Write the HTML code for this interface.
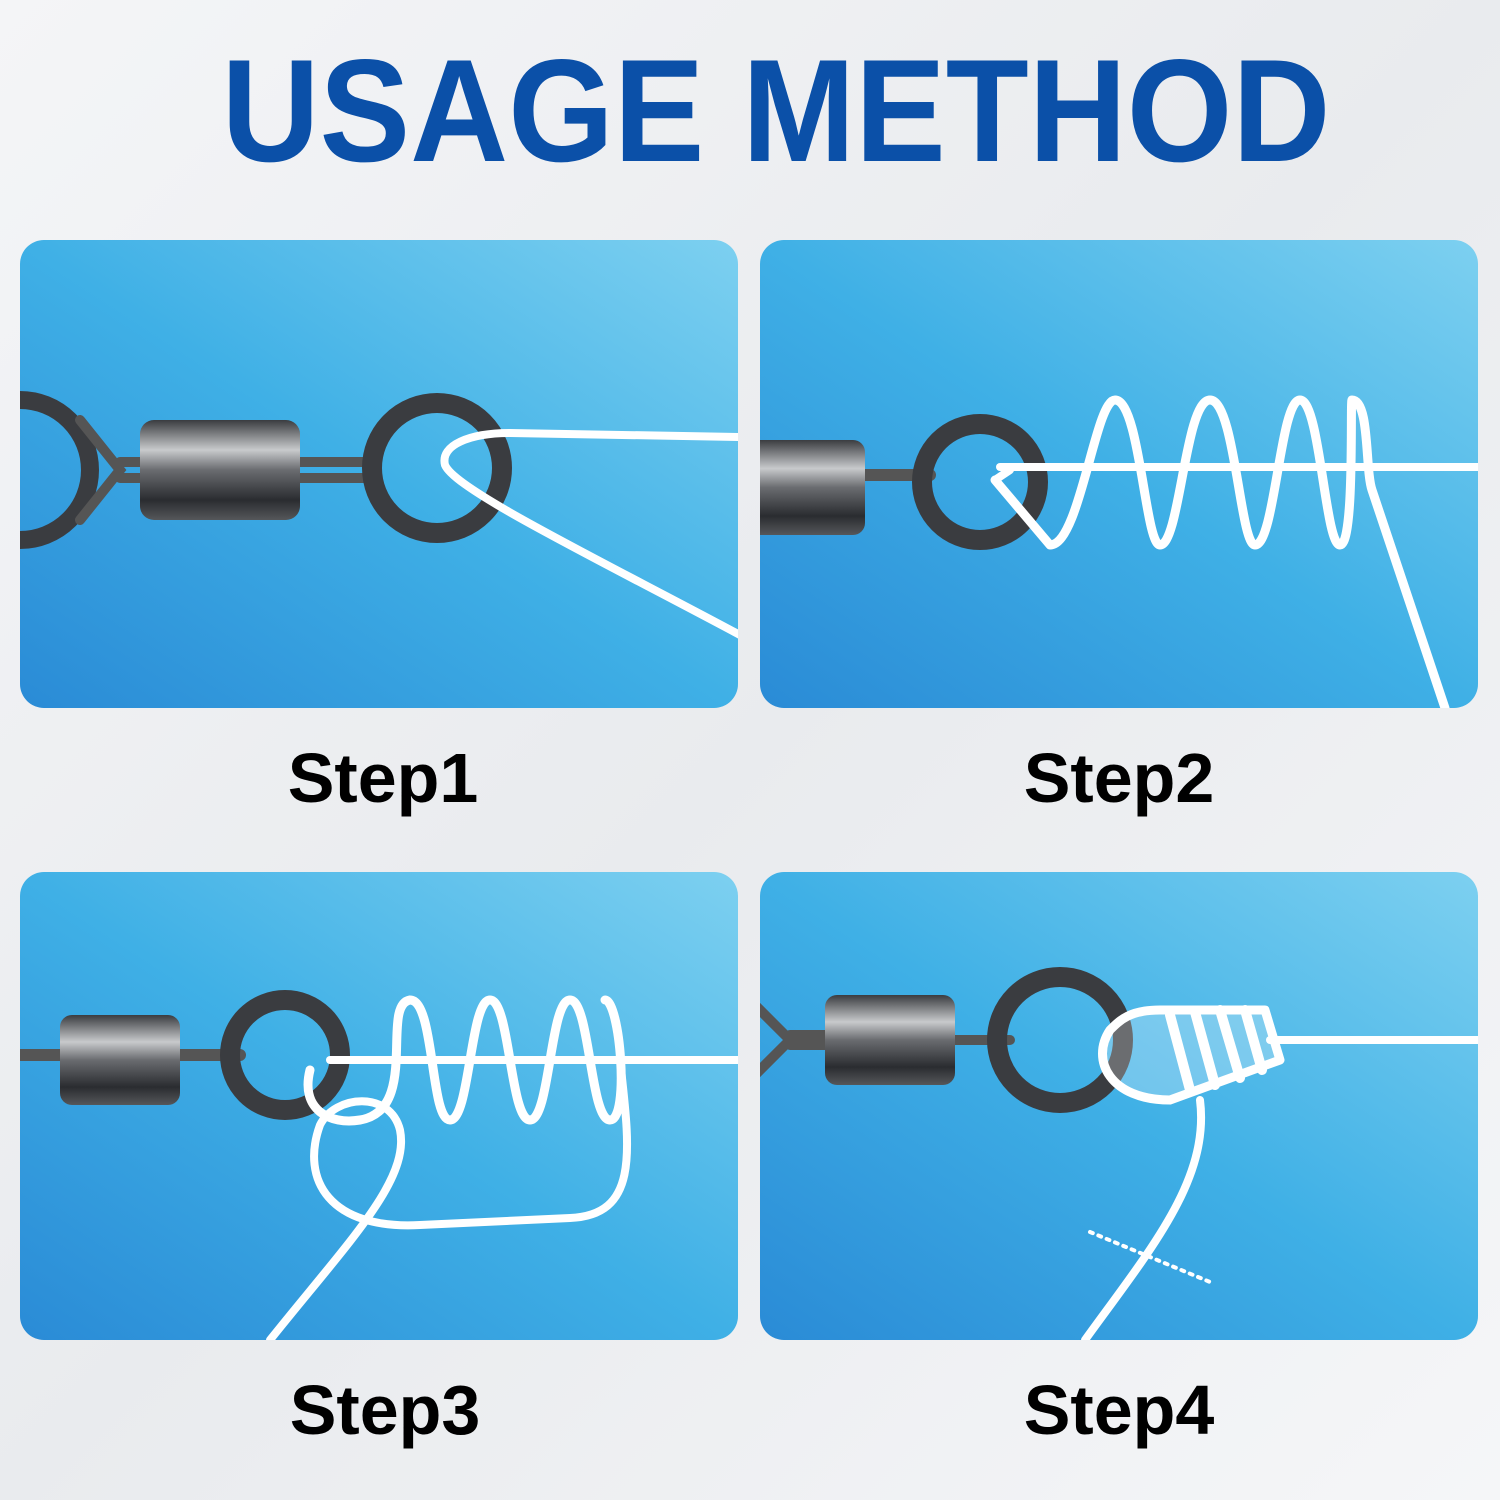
<!DOCTYPE html>
<html><head><meta charset="utf-8"><style>
html,body{margin:0;padding:0;}
body{width:1500px;height:1500px;background:linear-gradient(135deg,#f4f5f7,#e9ebee 50%,#f5f6f8);position:relative;overflow:hidden;font-family:"Liberation Sans",sans-serif;}
.title{position:absolute;left:26px;width:1500px;top:36px;text-align:center;font-weight:bold;font-size:146px;color:#0b50a8;letter-spacing:0;line-height:150px;transform:scaleX(0.93);transform-origin:750px 0;}
.lbl{position:absolute;width:718px;text-align:center;font-weight:bold;font-size:70px;color:#000;}
svg{position:absolute;left:0;top:0;}
</style></head><body>
<div class="title">USAGE METHOD</div>
<svg width="1500" height="1500" viewBox="0 0 1500 1500">
<defs>
<linearGradient id="bg" x1="0" y1="1" x2="1" y2="0">
<stop offset="0" stop-color="#2a8bd6"/><stop offset="0.5" stop-color="#3fb0e6"/><stop offset="1" stop-color="#7dd0f0"/></linearGradient>
<linearGradient id="brl" x1="0" y1="0" x2="0" y2="1">
<stop offset="0" stop-color="#3a3c40"/><stop offset="0.3" stop-color="#c8cacc"/><stop offset="0.5" stop-color="#6a6c70"/><stop offset="0.8" stop-color="#2a2c30"/><stop offset="1" stop-color="#55575a"/></linearGradient>
<clipPath id="c1"><rect x="20" y="240" width="718" height="468" rx="24"/></clipPath>
<clipPath id="c2"><rect x="760" y="240" width="718" height="468" rx="24"/></clipPath>
<clipPath id="c3"><rect x="20" y="872" width="718" height="468" rx="24"/></clipPath>
<clipPath id="c4"><rect x="760" y="872" width="718" height="468" rx="24"/></clipPath>
</defs>
<rect x="20" y="240" width="718" height="468" rx="24" fill="url(#bg)"/>
<rect x="760" y="240" width="718" height="468" rx="24" fill="url(#bg)"/>
<rect x="20" y="872" width="718" height="468" rx="24" fill="url(#bg)"/>
<rect x="760" y="872" width="718" height="468" rx="24" fill="url(#bg)"/>

<g clip-path="url(#c1)" fill="none" stroke-linecap="round">
<circle cx="20" cy="470" r="70" stroke="#3a3c40" stroke-width="18"/>
<path d="M80 420 L120 470 L80 520 M120 462 L150 462 M120 478 L150 478" stroke="#555" stroke-width="10"/>
<path d="M300 462 L370 462 M300 478 L370 478" stroke="#555" stroke-width="10"/>
<rect x="140" y="420" width="160" height="100" rx="14" fill="url(#brl)" stroke="none"/>
<circle cx="437" cy="468" r="65" stroke="#3a3c40" stroke-width="20"/>
<path d="M740 437 L510 433 C470 433 440 445 445 465 C455 490 600 560 740 635" stroke="#fff" stroke-width="8"/>
</g>

<g clip-path="url(#c2)" fill="none" stroke-linecap="round" stroke-linejoin="round">
<path d="M865 475 L930 475" stroke="#555" stroke-width="12"/>
<rect x="740" y="440" width="125" height="95" rx="12" fill="url(#brl)" stroke="none"/>
<circle cx="980" cy="482" r="58" stroke="#3a3c40" stroke-width="20"/>
<path d="M1000 467 L1480 467" stroke="#fff" stroke-width="8"/>
<path d="M995 480 L1050 545 C1080 545 1095 400 1115 400 C1140 400 1145 545 1160 545 C1180 545 1185 400 1210 400 C1235 400 1240 545 1255 545 C1275 545 1280 400 1300 400 C1320 400 1325 545 1340 545 C1355 545 1350 400 1352 400 C1370 400 1365 470 1372 490 L1445 708" stroke="#fff" stroke-width="9"/>
<path d="M995 480 L1010 470" stroke="#fff" stroke-width="8"/>
</g>

<g clip-path="url(#c3)" fill="none" stroke-linecap="round" stroke-linejoin="round">
<path d="M10 1055 L60 1055 M180 1055 L240 1055" stroke="#555" stroke-width="12"/>
<rect x="60" y="1015" width="120" height="90" rx="12" fill="url(#brl)" stroke="none"/>
<circle cx="285" cy="1055" r="55" stroke="#3a3c40" stroke-width="20"/>
<path d="M330 1060 L740 1060" stroke="#fff" stroke-width="8"/>
<path d="M310 1070 C300 1110 330 1125 360 1120 C420 1110 380 1005 410 1000 C435 1000 430 1120 450 1120 C470 1120 470 1000 490 1000 C510 1000 510 1120 530 1120 C550 1120 550 1000 570 1000 C590 1000 590 1120 610 1120 C630 1120 620 1000 605 1000" stroke="#fff" stroke-width="9"/>
<path d="M620 1060 C630 1150 640 1215 570 1218 L420 1225 C330 1230 300 1180 320 1125 C335 1095 390 1090 400 1130 C410 1180 350 1240 270 1340" stroke="#fff" stroke-width="8"/>
</g>

<g clip-path="url(#c4)" fill="none" stroke-linecap="round" stroke-linejoin="round">
<path d="M740 990 L790 1040 L740 1090 M790 1035 L830 1035 M790 1045 L830 1045 M955 1040 L1010 1040" stroke="#555" stroke-width="10"/>
<rect x="825" y="995" width="130" height="90" rx="12" fill="url(#brl)" stroke="none"/>
<circle cx="1060" cy="1040" r="63" stroke="#3a3c40" stroke-width="20"/>
<path d="M1270 1040 L1480 1040" stroke="#fff" stroke-width="8"/>
<path d="M1110 1030 C1090 1060 1110 1100 1170 1100 L1280 1060 L1265 1010 L1160 1010 C1130 1010 1120 1020 1110 1030 Z" stroke="#fff" stroke-width="9" fill="rgba(255,255,255,0.25)"/>
<path d="M1170 1015 L1190 1090 M1195 1012 L1215 1085 M1220 1010 L1240 1078 M1245 1010 L1262 1070" stroke="#fff" stroke-width="10"/>
<path d="M1200 1100 C1210 1180 1150 1250 1085 1340" stroke="#fff" stroke-width="8"/>
<path d="M1090 1232 L1210 1282" stroke="#fff" stroke-width="4" stroke-dasharray="3 6"/>
</g>
</svg>
<div class="lbl" style="left:24px;top:738px;">Step1</div>
<div class="lbl" style="left:760px;top:738px;">Step2</div>
<div class="lbl" style="left:26px;top:1370px;">Step3</div>
<div class="lbl" style="left:760px;top:1370px;">Step4</div>
</body></html>
